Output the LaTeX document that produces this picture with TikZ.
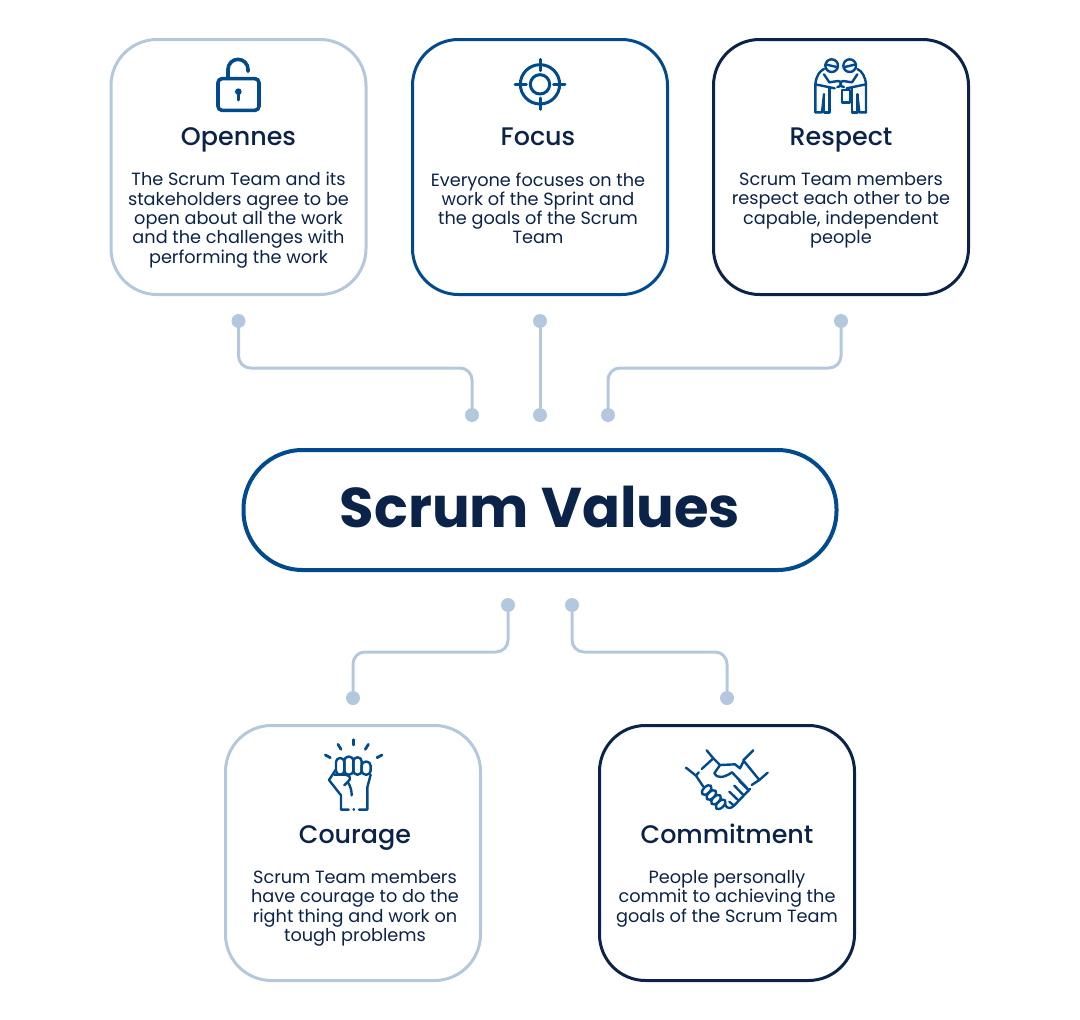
\documentclass[tikz,border=0pt]{standalone}
\usepackage{fontspec}
\setmainfont{Poppins}
\newfontfamily\titlefont{Poppins Medium}
\usepackage{xcolor}
\usetikzlibrary{positioning,calc}
\definecolor{paleblue}{HTML}{B4C8DD}
\definecolor{midblue}{HTML}{004A8D}
\definecolor{inkblue}{HTML}{0B2348}

\begin{document}
\begin{tikzpicture}[
  x=1pt, y=-1pt,
  every node/.style={inner sep=0pt, outer sep=0pt},
  valbox/.style={draw=#1, line width=3pt, rounded corners=46pt, fill=white,
                 minimum width=255pt, minimum height=255pt},
  hub/.style={draw=midblue, line width=4pt, rounded corners=59pt, fill=white,
              minimum width=593pt, minimum height=120pt, text=inkblue, text depth=6pt,
              font=\fontsize{56}{60}\selectfont\bfseries},
  valtitle/.style={text=inkblue, text height=20pt, text depth=6pt,
                   font=\fontsize{25.4}{28}\selectfont\titlefont},
  valtext/.style={text=inkblue, align=center,
                  font=\fontsize{17.7}{19.3}\selectfont},
  dot/.style={circle, fill=paleblue, minimum size=14pt},
  link/.style={draw=paleblue, line width=3pt, rounded corners=12pt},
  ico/.style={draw=midblue, line width=3pt, line cap=round, line join=round},
  thin ico/.style={draw=midblue, line width=2.4pt, line cap=round, line join=round},
]
\useasboundingbox (0,0) rectangle (1080,1020);

% --------------------------------------------------------------- upper row
\node[valbox=paleblue] (open) at (238.5,167) {};
\node[valbox=midblue, right=46.5pt of open] (focus) {};
\node[valbox=inkblue, right=46pt of focus] (resp) {};

\node[valtitle, below=86pt of open.north] (opentitle) {Opennes};
\node[valtitle, below=86pt of focus.north, xshift=-2pt] (focustitle) {Focus};
\node[valtitle, below=86pt of resp.north] (resptitle) {Respect};

\node[valtext, below=21pt of opentitle] (opentext) {The Scrum Team and its\\stakeholders agree to be\\open about all the work\\and the challenges with\\performing the work};
\node[valtext, below=21pt of focustitle] (focustext) {Everyone focuses on the\\work of the Sprint and\\the goals of the Scrum\\Team};
\node[valtext, below=21pt of resptitle] (resptext) {Scrum Team members\\respect each other to be\\capable, independent\\people};

% --------------------------------------------------------------- the hub
\node[hub] (values) at (540,510) {Scrum Values};

% --------------------------------------------------------------- lower row
\node[valbox=paleblue] (cour) at (353,853) {};
\node[valbox=inkblue, right=119pt of cour] (commit) {};

\node[valtitle, below=98pt of cour.north, xshift=2pt] (courtitle) {Courage};
\node[valtitle, below=98pt of commit.north] (committitle) {Commitment};

\node[valtext, below=21pt of courtitle] (courtext) {Scrum Team members\\have courage to do the\\right thing and work on\\tough problems};
\node[valtext, below=21pt of committitle] (committext) {People personally\\commit to achieving the\\goals of the Scrum Team};

% --------------------------------------------------------------- connectors
\node[dot] (a1) at (238.5,321) {};
\node[dot] (a2) at (472,415) {};
\node[dot] (b1) at (540,321) {};
\node[dot] (b2) at (540,415) {};
\node[dot] (c1) at (841,321) {};
\node[dot] (c2) at (608,415) {};
\node[dot] (d1) at (508,605) {};
\node[dot] (d2) at (353,698) {};
\node[dot] (e1) at (572,605) {};
\node[dot] (e2) at (727,698) {};

\coordinate (abend) at (355,368);
\coordinate (cbend) at (725,368);
\coordinate (dbend) at (430,652);
\coordinate (ebend) at (650,652);

\draw[link] (a1) |- (abend) -| (a2);
\draw[link] (b1) -- (b2);
\draw[link] (c1) |- (cbend) -| (c2);
\draw[link] (d1) |- (dbend) -| (d2);
\draw[link] (e1) |- (ebend) -| (e2);

% --------------------------------------------------------------- lock
\begin{scope}[shift={(100,30)}, scale=1/3]
  \draw[ico, line width=3.6pt, rounded corners=4pt] (354,146) rectangle (477,241);
  \draw[ico, line width=3.6pt] (384,146) -- (384,118) arc[start angle=180, end angle=360, radius=30] -- (444,124);
  \fill[midblue] (415,185) circle (10);
  \draw[ico] (415,187) -- (415,210);
\end{scope}

% --------------------------------------------------------------- target
\begin{scope}[shift={(480,40)}, scale=1/3]
  \draw[ico] (180,133) circle (59);
  \draw[ico] (180,133) circle (29);
  \foreach \r in {0,90,180,270}
    \draw[ico, rotate around={\r:(180,133)}] (180,58) -- (180,92);
\end{scope}

% --------------------------------------------------------------- two people
\begin{scope}[shift={(790,45)}, scale=1/3]
  \foreach \s in {1,-1}{
    \begin{scope}[shift={(152,0)}, xscale=\s]
      \draw[thin ico] (-27,62) circle (19);
      \draw[thin ico] (-46,58) -- (-12,66);
      \draw[thin ico] (-76,202) -- (-76,118) .. controls (-74,95) and (-64,78) .. (-50,72);
      \draw[thin ico] (-50,88) -- (-34,112) -- (-8,108);
      \draw[thin ico] (-76,118) -- (-18,130);
      \draw[thin ico] (-34,130) -- (-34,202) -- (-50,202) -- (-50,148);
      \draw[thin ico] (-50,148) -- (-56,202) -- (-76,202);
      \draw[thin ico] (-8,108) .. controls (4,106) and (4,128) .. (-10,126);
    \end{scope}
  }
  \draw[thin ico] (156,135) -- (156,172) -- (180,172) -- (180,135) -- cycle;
\end{scope}

% --------------------------------------------------------------- fist
\begin{scope}[shift={(305,730)}, scale=1/3]
  \foreach \a/\b/\c/\d in {146/29/146/45, 99/43/108/58, 190/43/181/58, 61/75/76/83, 231/75/216/83}
    \draw[thin ico, line width=2.8pt] (\a,\b) -- (\c,\d);
  \foreach \a/\b/\c in {93/118/84, 118/145/80, 145/170/82, 170/197/95}
    \draw[thin ico, rounded corners=4pt] (\a,\c) rectangle (\b,134);
  \draw[thin ico] (93,118) -- (72,150) -- (108,196) -- (108,239) -- (131,239);
  \draw[thin ico] (146,239) -- (147,239);
  \draw[thin ico] (162,239) -- (187,239) -- (187,172) -- (197,134);
  \draw[thin ico] (88,134) -- (120,134) .. controls (136,136) and (140,146) .. (128,156) -- (118,166);
  \draw[thin ico] (128,156) .. controls (138,170) and (140,185) .. (140,196);
\end{scope}

% --------------------------------------------------------------- handshake
\begin{scope}[shift={(670,735)}, scale=1/3]
  \draw[thin ico] (110,46) -- (130,70) -- (95,102);
  \draw[thin ico] (48,98) -- (78,122) -- (86,112);
  \draw[thin ico] (250,46) -- (220,76) -- (268,135) -- (293,113);
  \draw[thin ico] (130,70) -- (150,90) -- (195,88) -- (210,100) -- (220,80);
  \draw[thin ico] (78,122) -- (100,155);
  \draw[thin ico] (150,90) -- (133,115) .. controls (140,130) and (160,130) .. (186,112) -- (232,160);
  \draw[thin ico] (268,135) -- (245,150);
  \foreach \a/\b in {110/165, 124/180, 138/194, 152/208}
    \draw[thin ico, rotate around={45:(\a,\b)}] (\a,\b) ellipse (18 and 10);
  \draw[thin ico] (165,208) .. controls (170,222) and (182,222) .. (192,212) -- (240,162);
  \foreach \a/\b/\c/\d in {178/170/205/196, 193/152/220/180, 208/138/235/165}
    \draw[thin ico] (\a,\b) -- (\c,\d);
  \draw[thin ico] (178,200) -- (192,212);
\end{scope}

\end{tikzpicture}
\end{document}
